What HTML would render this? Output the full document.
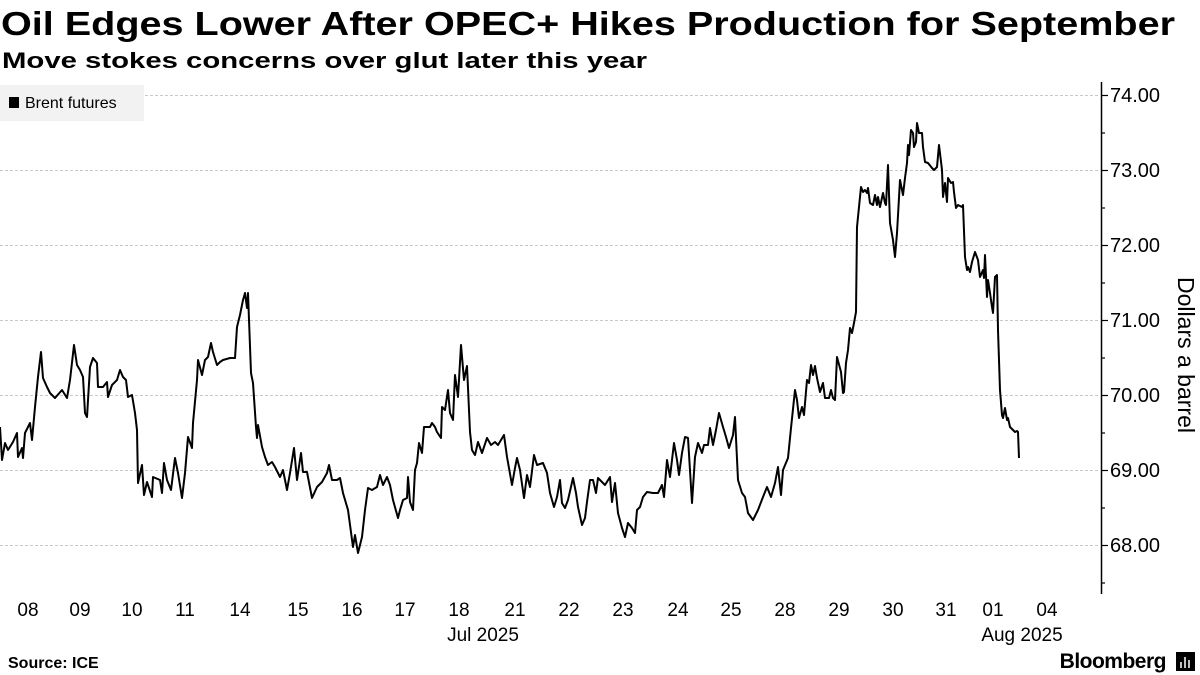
<!DOCTYPE html>
<html><head><meta charset="utf-8"><style>html,body{margin:0;padding:0;background:#fff}svg{display:block}</style></head><body>
<svg width="1200" height="675" viewBox="0 0 1200 675" xmlns="http://www.w3.org/2000/svg" font-family="Liberation Sans, sans-serif">
<text x="1" y="35" font-size="33" font-weight="bold" textLength="1174" lengthAdjust="spacingAndGlyphs">Oil Edges Lower After OPEC+ Hikes Production for September</text>
<text x="2" y="68" font-size="22" font-weight="bold" textLength="645" lengthAdjust="spacingAndGlyphs">Move stokes concerns over glut later this year</text>
<g stroke="#c8c8c8" stroke-dasharray="3,2" stroke-width="1">
<line x1="0" x2="1100" y1="95.5" y2="95.5"/><line x1="0" x2="1100" y1="170.5" y2="170.5"/><line x1="0" x2="1100" y1="245.5" y2="245.5"/><line x1="0" x2="1100" y1="320.5" y2="320.5"/><line x1="0" x2="1100" y1="395.5" y2="395.5"/><line x1="0" x2="1100" y1="470.5" y2="470.5"/><line x1="0" x2="1100" y1="545.5" y2="545.5"/>
</g>
<rect x="0" y="85" width="144" height="36" fill="#f2f2f2"/>
<rect x="9" y="97" width="10" height="11" fill="#000"/>
<text x="25" y="108" font-size="16">Brent futures</text>
<line x1="1101.5" y1="82" x2="1101.5" y2="594" stroke="#000" stroke-width="1.5"/>
<g stroke="#000" stroke-width="1.2">
<line x1="1101" x2="1108" y1="95.5" y2="95.5"/><line x1="1101" x2="1105" y1="133" y2="133"/>
<line x1="1101" x2="1108" y1="170.5" y2="170.5"/><line x1="1101" x2="1105" y1="208" y2="208"/>
<line x1="1101" x2="1108" y1="245.5" y2="245.5"/><line x1="1101" x2="1105" y1="283" y2="283"/>
<line x1="1101" x2="1108" y1="320.5" y2="320.5"/><line x1="1101" x2="1105" y1="358" y2="358"/>
<line x1="1101" x2="1108" y1="395.5" y2="395.5"/><line x1="1101" x2="1105" y1="433" y2="433"/>
<line x1="1101" x2="1108" y1="470.5" y2="470.5"/><line x1="1101" x2="1105" y1="508" y2="508"/>
<line x1="1101" x2="1108" y1="545.5" y2="545.5"/><line x1="1101" x2="1105" y1="583" y2="583"/>
</g>
<g font-size="20" fill="#000">
<text x="1110" y="102">74.00</text><text x="1110" y="177">73.00</text><text x="1110" y="252">72.00</text><text x="1110" y="327">71.00</text><text x="1110" y="402">70.00</text><text x="1110" y="477">69.00</text><text x="1110" y="552">68.00</text>
</g>
<text transform="translate(1178,355) rotate(90)" font-size="23" text-anchor="middle">Dollars a barrel</text>
<g font-size="19" text-anchor="middle">
<text x="28" y="616">08</text><text x="80" y="616">09</text><text x="132" y="616">10</text><text x="185" y="616">11</text><text x="240" y="616">14</text><text x="298" y="616">15</text><text x="352" y="616">16</text><text x="405" y="616">17</text><text x="459" y="616">18</text><text x="515" y="616">21</text><text x="569" y="616">22</text><text x="623" y="616">23</text><text x="678" y="616">24</text><text x="731" y="616">25</text><text x="785" y="616">28</text><text x="839" y="616">29</text><text x="893" y="616">30</text><text x="946" y="616">31</text><text x="993" y="616">01</text><text x="1047" y="616">04</text>
<text x="483" y="641">Jul 2025</text><text x="1022" y="641">Aug 2025</text>
</g>
<text x="8" y="668" font-size="16" font-weight="bold">Source: ICE</text>
<text x="1166" y="668" font-size="21" font-weight="bold" text-anchor="end" letter-spacing="-0.5">Bloomberg</text>
<rect x="1176" y="652" width="19" height="19" fill="#000"/>
<g stroke="#fff" stroke-width="1.5"><line x1="1181" y1="668" x2="1181" y2="662"/><line x1="1185" y1="668" x2="1185" y2="657"/><line x1="1189" y1="668" x2="1189" y2="660"/></g>
<polyline fill="none" stroke="#000" stroke-width="2" stroke-linejoin="round" points="
0,427 2,460 5,443 8,450 13,442 17,433 18,457 22,448 23,458 25,433 30,423 32,440 35,407 38,377 41,352 43,378 47,387 50,393 55,398 62,390 67,398 70,380 74,345 77,365 80,370 83,377 85,413 87,417 90,367 93,358 97,363 98,387 103,387 107,382 108,397 112,385 117,380 120,370 123,377 126,380 128,397 132,395 135,413 137,430 138,483 142,465 144,495 147,482 152,497 153,477 160,480 162,493 164,463 167,480 171,490 175,458 178,473 182,498 185,473 188,437 192,448 193,423 197,380 198,360 202,375 205,360 208,357 211,343 213,352 217,365 220,362 223,360 230,358 235,358 237,327 240,315 243,300 245,293 247,308 248,293 251,373 253,383 256,427 257,438 258,425 262,447 265,457 268,465 272,462 275,467 280,477 283,470 287,490 290,473 294,448 297,480 301,453 303,472 307,472 312,498 317,487 322,482 327,473 329,465 332,480 337,480 340,478 343,493 348,510 353,547 355,535 358,553 362,537 365,510 368,488 372,490 377,487 380,475 383,485 387,477 390,485 393,500 398,518
400,510 403,500 407,498 408,477 410,502 413,510 415,470 417,463 419,443 422,453 424,427 430,427 432,423 435,427 437,432 441,438 442,407 445,410 448,390 450,413 453,420 455,375 458,397 461,345 464,380 467,366 470,432 472,450 475,455 478,442 482,453 487,438 491,445 495,442 498,445 504,435 507,457 512,485 515,468 517,458 520,470 524,498 527,475 530,487 534,455 537,465 543,463 547,473 550,493 554,507 557,497 560,480 562,503 565,508 568,500 573,478 576,493 578,507 582,525 585,518 587,502 590,480 593,480 596,493 598,478 602,482 605,485 610,477 612,502 615,483 618,513 622,528 625,537 628,523 632,528 635,533 637,510 640,507 643,497 647,492 653,493 658,493 662,485 664,497 667,460 670,477 674,443 677,460 679,475 682,453 685,437 688,438 692,503 695,457 698,443 702,453 704,445 708,445 710,428 713,445 716,430 719,413 723,427 726,437 729,448 733,435 735,417 738,480 742,493 745,497 748,513 753,520 758,510 763,497 767,487 771,497 775,483 778,467 781,495 783,470 788,458 791,428 795,390 797,400 799,418
802,407 804,415 807,380 809,383 811,365 813,375 815,366 817,378 820,392 823,383 825,398 829,398 831,390 833,398 835,400 837,357 841,372 843,393 844,392 846,363 848,350 850,328 852,333 854,323 856,312 857,227 859,207 861,187 863,192 865,190 867,193 868,188 870,203 873,205 875,195 877,205 878,197 880,207 883,193 885,203 886,205 888,165 890,223 893,240 895,257 897,233 900,180 903,195 905,178 907,163 908,145 909,155 911,130 913,133 914,147 916,142 917,123 919,133 922,133 923,147 925,162 928,163 932,168 934,170 937,167 939,145 942,170 943,197 945,183 947,202 948,178 951,183 953,182 954,192 956,208 958,205 962,207 963,205 965,257 967,270 968,267 970,272 972,262 975,252 978,260 980,277 983,270 984,278 985,255 987,297 988,280 990,293 992,307 993,313 995,277 997,275 998,330 1000,390 1002,415 1003,418 1005,408 1007,420 1008,418 1010,427 1013,430 1015,432 1017,431 1018,432 1019,458"/>
</svg>
</body></html>
